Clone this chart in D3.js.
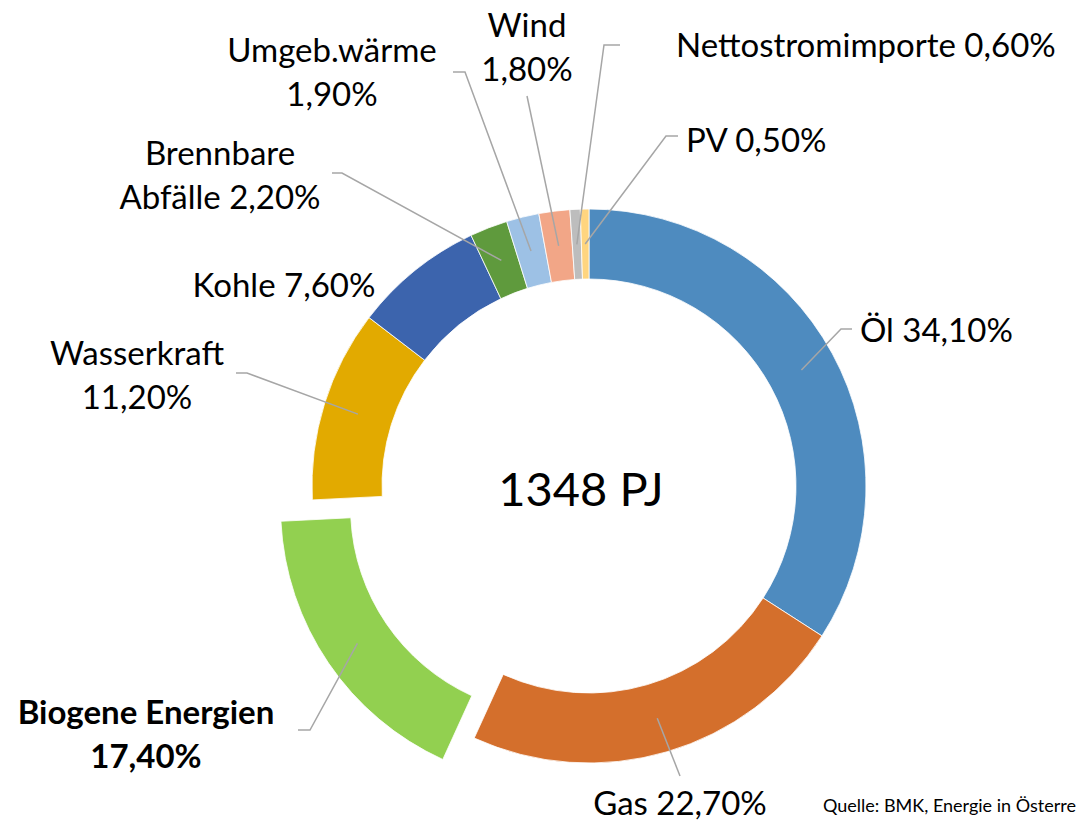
<!DOCTYPE html>
<html>
<head>
<meta charset="utf-8">
<script src="https://cdn.jsdelivr.net/npm/d3@7"></script>
<style>
  body { margin: 0; background: #fff; }
  svg { display: block; font-family: Lato, "Noto Sans", sans-serif; }
</style>
</head>
<body>
<div id="chart"></div>
<script>
"use strict"

// data (share of gross domestic consumption)
var categories = ["Öl", "Gas", "Biogene Energien", "Wasserkraft", "Kohle",
  "Brennbare Abfälle", "Umgeb.wärme", "Wind", "Nettostromimporte", "PV"];
var shares = [34.1, 22.7, 17.4, 11.2, 7.6, 2.2, 1.9, 1.8, 0.6, 0.5];
var labelLines = [
  ["Öl 34,10%"],
  ["Gas 22,70%"],
  ["Biogene Energien", "17,40%"],
  ["Wasserkraft", "11,20%"],
  ["Kohle 7,60%"],
  ["Brennbare", "Abfälle 2,20%"],
  ["Umgeb.wärme", "1,90%"],
  ["Wind", "1,80%"],
  ["Nettostromimporte 0,60%"],
  ["PV 0,50%"]
];
var total = "1348 PJ";
var source = "Quelle: BMK, Energie in Österreich 2022";

var colors = ["#4e8bbf", "#d46f2c", "#92d050", "#e2aa00", "#3c64ad",
  "#5f9a3d", "#9dc1e5", "#f2a687", "#bdbdbd", "#ffd57f"];

// label placement: text anchor (x,y = middle of first line), leader elbow and end
var layout = [
  { x: 860, y: 330, anchor: "start", elbow: [841, 329], end: [852, 329] },
  { x: 680, y: 803, anchor: "middle", elbow: null, end: [680, 776] },
  { x: 146, y: 712, anchor: "middle", elbow: [310, 730], end: [298, 730], bold: true },
  { x: 137, y: 353, anchor: "middle", elbow: [247, 373], end: [236, 373] },
  { x: 284, y: 285, anchor: "middle", elbow: null, end: null },
  { x: 220, y: 153, anchor: "middle", elbow: [342, 173], end: [332, 173] },
  { x: 332, y: 50, anchor: "middle", elbow: [465, 72], end: [453, 72] },
  { x: 527, y: 25, anchor: "middle", elbow: null, end: [527, 96] },
  { x: 676, y: 45, anchor: "start", elbow: [604, 45], end: [620, 45] },
  { x: 686, y: 140, anchor: "start", elbow: [666, 136], end: [678, 136] }
];

var width = 1076;
var height = 821;
var cx = 589, cy = 486;
var outerR = 277, innerR = 207;
var explodeIdx = 2, explodeBy = 38;
var lineH = 44;

var svg = d3.select("#chart").append("svg")
  .attr("width", width)
  .attr("height", height);

var pie = d3.pie().sort(null).value(function(d) { return d; });
var arcs = pie(shares);

var arc = d3.arc().innerRadius(innerR).outerRadius(outerR);
var midArc = d3.arc().innerRadius(242).outerRadius(242);

function offset(d, i) {
  if (i !== explodeIdx) return [0, 0];
  var a = (d.startAngle + d.endAngle) / 2;
  return [Math.sin(a) * explodeBy, -Math.cos(a) * explodeBy];
}

var g = svg.append("g").attr("transform", "translate(" + cx + "," + cy + ")");

g.selectAll("path.slice")
  .data(arcs)
  .enter().append("path")
  .attr("class", "slice")
  .attr("d", arc)
  .attr("transform", function(d, i) {
    var o = offset(d, i);
    return "translate(" + o[0] + "," + o[1] + ")";
  })
  .attr("fill", function(d, i) { return colors[i]; })
  .attr("stroke", "#fff")
  .attr("stroke-width", 0.8);

// leader lines
arcs.forEach(function(d, i) {
  var L = layout[i];
  if (!L.end) return;
  var c = midArc.centroid(d);
  var o = offset(d, i);
  var pts = [[cx + c[0] + o[0], cy + c[1] + o[1]]];
  if (L.elbow) pts.push(L.elbow);
  pts.push(L.end);
  svg.append("path")
    .attr("d", d3.line()(pts))
    .attr("fill", "none")
    .attr("stroke", "#a6a6a6")
    .attr("stroke-width", 1.5);
});

// labels
labelLines.forEach(function(lines, i) {
  var L = layout[i];
  var t = svg.append("text")
    .attr("text-anchor", L.anchor)
    .attr("font-size", 33)
    .attr("font-weight", L.bold ? "bold" : "normal")
    .attr("fill", "#000");
  lines.forEach(function(s, k) {
    t.append("tspan")
      .attr("x", L.x)
      .attr("y", L.y + k * lineH)
      .attr("dy", "0.35em")
      .text(s);
  });
});

svg.append("text")
  .attr("x", 581)
  .attr("y", 490)
  .attr("dy", "0.35em")
  .attr("text-anchor", "middle")
  .attr("font-size", 47)
  .text(total);

// source note runs past the right edge, as in the original slide
svg.append("text")
  .attr("x", 823)
  .attr("y", 806)
  .attr("dy", "0.35em")
  .attr("font-size", 18)
  .text(source);
</script>
</body>
</html>
